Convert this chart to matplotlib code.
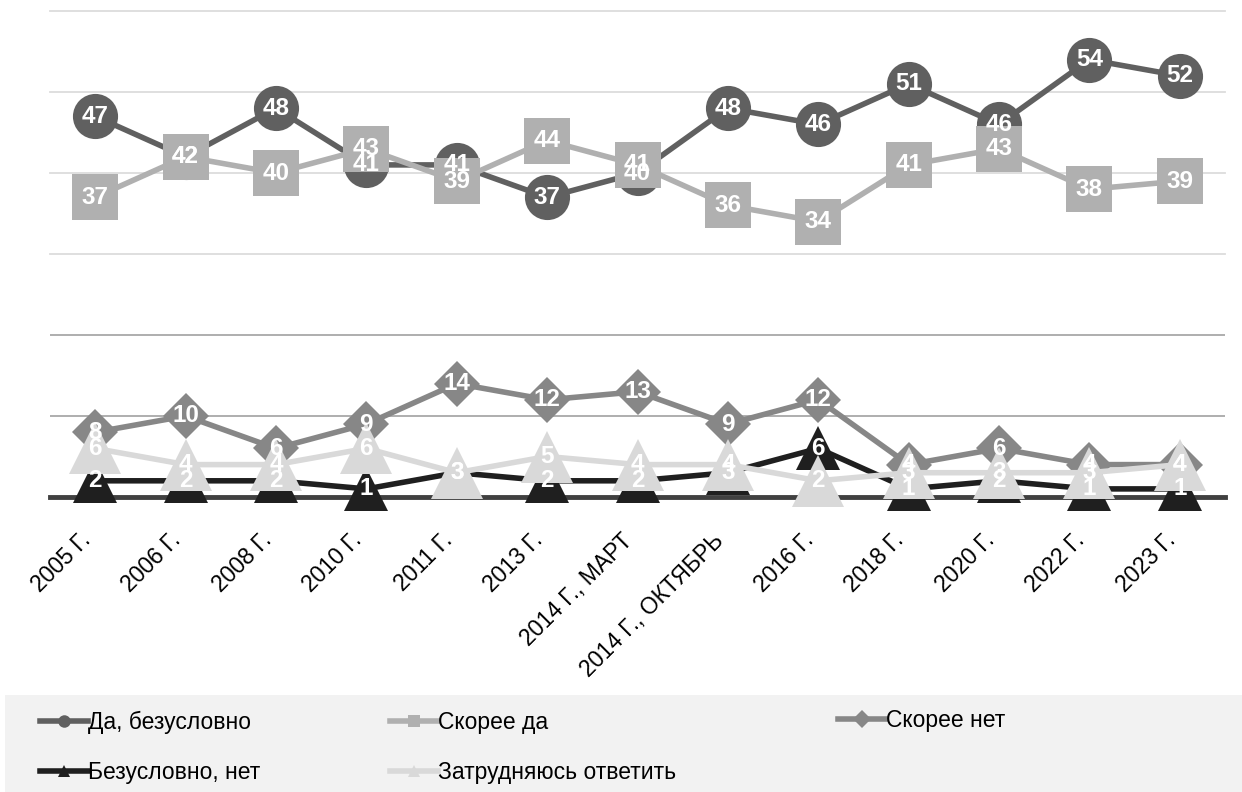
import matplotlib
matplotlib.use("Agg")
import matplotlib.pyplot as plt
from matplotlib.lines import Line2D
from matplotlib.patches import Rectangle
from matplotlib import font_manager
import matplotlib.transforms as mtransforms

categories = ["2005 Г.", "2006 Г.", "2008 Г.", "2010 Г.", "2011 Г.", "2013 Г.",
              "2014 Г., МАРТ", "2014 Г., ОКТЯБРЬ", "2016 Г.", "2018 Г.",
              "2020 Г.", "2022 Г.", "2023 Г."]
da_bezuslovno = [47, 42, 48, 41, 41, 37, 40, 48, 46, 51, 46, 54, 52]
skoree_da = [37, 42, 40, 43, 39, 44, 41, 36, 34, 41, 43, 38, 39]
skoree_net = [8, 10, 6, 9, 14, 12, 13, 9, 12, 4, 6, 4, 4]
bezuslovno_net = [2, 2, 2, 1, 3, 2, 2, 3, 6, 1, 2, 1, 1]
zatrudnyayus = [6, 4, 4, 6, 3, 5, 4, 4, 2, 3, 3, 3, 4]

names = {f.name for f in font_manager.fontManager.ttflist}
base_font = "Liberation Sans" if "Liberation Sans" in names else "DejaVu Sans"
plt.rcParams['font.family'] = [base_font, 'DejaVu Sans']

W, H = 1242, 792
fig = plt.figure(figsize=(W / 100, H / 100), dpi=100)
ax = fig.add_axes([50 / W, (H - 497) / H, (1225 - 50) / W, (497 - 11) / H])

x = list(range(len(categories)))
ax.set_xlim(-0.5, len(categories) - 0.5)
ax.set_ylim(0, 60)

# gridlines
for v in [30, 40, 50, 60]:
    ax.axhline(v, color="#dcdcdc", lw=1.3, zorder=0, clip_on=False)
for v in [10, 20]:
    ax.axhline(v, color="#a8a8a8", lw=1.3, zorder=0)
ax.axhline(0, color="#404040", lw=3.5, zorder=0.5, clip_on=False)

for s in ax.spines.values():
    s.set_visible(False)
ax.set_yticks([])
ax.tick_params(axis="x", length=0, pad=23)

series = [
    ("Да, безусловно", da_bezuslovno, "#606060", "o", 32.5),
    ("Скорее да", skoree_da, "#b0b0b0", "s", 32.5),
    ("Скорее нет", skoree_net, "#878787", "D", 23),
    ("Безусловно, нет", bezuslovno_net, "#1f1f1f", "^", 32),
    ("Затрудняюсь ответить", zatrudnyayus, "#d9d9d9", "^", 37.5),
]

for i, (name, vals, col, mk, ms) in enumerate(series):
    ax.plot(x, vals, color=col, lw=4, marker=mk, markersize=ms,
            markeredgewidth=0, zorder=2 + i, clip_on=False,
            solid_joinstyle="round")

for i, (name, vals, col, mk, ms) in enumerate(series):
    for xi, v in zip(x, vals):
        ax.text(xi, v, str(v), color="white", fontsize=17.5, fontweight="bold",
                ha="center", va="center", zorder=10 + i)

ax.set_xticks(x)
ax.set_xticklabels(categories, rotation=45, ha="right", va="top",
                   fontsize=16.5, color="black")
offset = mtransforms.ScaledTranslation(0 / 100, 0, fig.dpi_scale_trans)
for lab in ax.get_xticklabels():
    lab.set_transform(lab.get_transform() + offset)

# legend background
fig.patches.append(Rectangle((5 / W, 0), (W - 5) / W, 97 / H,
                             transform=fig.transFigure, facecolor="#f2f2f2",
                             edgecolor="none", zorder=0))

columns = [([0, 3], 40), ([1, 4], 390), ([2], 838)]
for idxs, xstart in columns:
    handles, labels = [], []
    for k in idxs:
        name, vals, col, mk, ms = series[k]
        handles.append(Line2D([], [], color=col, lw=4, marker=mk,
                              markersize=9, markeredgewidth=0))
        labels.append(name)
    if len(idxs) == 2:
        ycen = (721 + 774) / 2
    else:
        ycen = 721
    leg = fig.legend(handles, labels, ncol=1, loc="center left",
                     bbox_to_anchor=(xstart / W, (H - ycen) / H),
                     frameon=False, prop={"family": base_font, "size": 16.5},
                     handlelength=2.1, handletextpad=0.0,
                     labelspacing=1.15, borderaxespad=0, borderpad=0)

fig.savefig("out.png", dpi=100)
